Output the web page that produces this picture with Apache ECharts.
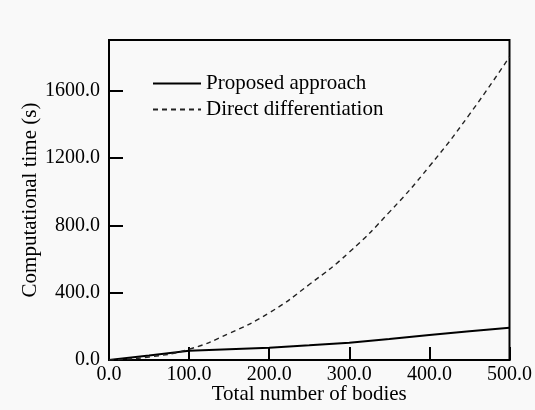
<!DOCTYPE html>
<html>
<head>
<meta charset="utf-8">
<script src="https://cdn.jsdelivr.net/npm/echarts@6/dist/echarts.min.js"></script>
<style>
html,body{margin:0;padding:0;background:#f9f9f9;}
#c{width:535px;height:410px;}
</style>
</head>
<body>
<div id="c"></div>
<script>
// Data
const bodies = [0, 50, 100, 150, 200, 250, 300, 350, 400, 450, 500];
const proposed = [0, 27, 55, 64, 73, 87, 103, 124, 148, 170, 192];
const direct = [0, 18, 64, 158, 280, 448, 640, 878, 1150, 1458, 1800];
const xTicks = [0, 100, 200, 300, 400, 500];
const yTicks = [0, 400, 800, 1200, 1600];
const seriesNames = ['Proposed approach', 'Direct differentiation'];

const font = 'Liberation Serif';
const chart = echarts.init(document.getElementById('c'), null, {renderer: 'canvas'});
const pair = (xs, ys) => xs.map((x, i) => [x, ys[i]]);

chart.setOption({
  backgroundColor: '#f9f9f9',
  animation: false,
  textStyle: {fontFamily: font, color: '#000'},
  grid: {left: 109, right: 24, top: 40, bottom: 50, show: true, borderColor: '#000', borderWidth: 2, backgroundColor: 'transparent'},
  legend: {
    orient: 'vertical', left: 147, top: 68, itemWidth: 48, itemHeight: 14, itemGap: 5,
    itemStyle: {opacity: 0},
    textStyle: {fontFamily: font, fontSize: 21, color: '#000'},
    data: seriesNames
  },
  xAxis: {
    type: 'value', min: xTicks[0], max: xTicks[xTicks.length - 1], interval: 100,
    name: 'Total number of bodies', nameLocation: 'middle', nameGap: 24, nameMoveOverlap: false,
    nameTextStyle: {fontFamily: font, fontSize: 21, color: '#000'},
    axisLine: {show: true, lineStyle: {color: '#000', width: 2}},
    axisTick: {show: true, inside: true, length: 13, lineStyle: {color: '#000', width: 2}},
    splitLine: {show: false},
    axisLabel: {fontFamily: font, fontSize: 20, color: '#000', margin: 5,
      formatter: v => xTicks.includes(v) ? v.toFixed(1) : ''}
  },
  yAxis: {
    type: 'value', min: 0, max: 1900, interval: 400,
    name: 'Computational time (s)', nameLocation: 'middle', nameGap: 68, nameMoveOverlap: false,
    nameTextStyle: {fontFamily: font, fontSize: 21, color: '#000'},
    axisLine: {show: true, lineStyle: {color: '#000', width: 2}},
    axisTick: {show: true, inside: true, length: 14, lineStyle: {color: '#000', width: 2}},
    splitLine: {show: false},
    axisLabel: {fontFamily: font, fontSize: 20, color: '#000', margin: 9,
      formatter: v => yTicks.includes(v) ? v.toFixed(1) : ''}
  },
  series: [
    {name: seriesNames[0], type: 'line', data: pair(bodies, proposed), symbol: 'none', smooth: false,
     lineStyle: {color: '#000', width: 2, type: 'solid'}, itemStyle: {color: '#000'}},
    {name: seriesNames[1], type: 'line', data: pair(bodies, direct), symbol: 'none', smooth: true,
     lineStyle: {color: '#222', width: 1.4, type: [5, 4]}, itemStyle: {color: '#222'}}
  ]
});
</script>
</body>
</html>
